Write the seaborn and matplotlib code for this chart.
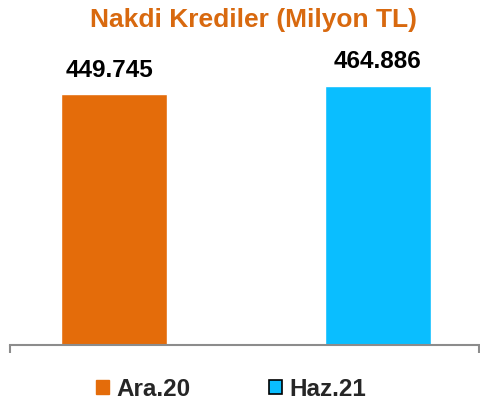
import matplotlib

matplotlib.use("Agg")
import matplotlib.pyplot as plt
import pandas as pd
import seaborn as sns
from matplotlib.patches import Patch

periods = ["Ara.20", "Haz.21"]
values = [449.745, 464.886]
value_labels = ["449.745", "464.886"]
bar_colors = ["#E46C0A", "#0ABEFF"]
title = "Nakdi Krediler (Milyon TL)"

sns.set_theme(style="white")
plt.rcParams["font.family"] = ["Liberation Sans", "DejaVu Sans"]

df = pd.DataFrame({"period": periods, "value": values})

fig = plt.figure(figsize=(4.81, 4.01), dpi=100)
ax = fig.add_axes([10 / 481, 56 / 401, 469 / 481, 279 / 401])

sns.barplot(data=df, x="period", y="value", hue="period", palette=bar_colors,
            width=0.40, legend=False, ax=ax, saturation=1)

xlim = (-0.394, 1.383)
ax.set_xlim(*xlim)
ax.set_ylim(0, 500)

for i, (v, lab) in enumerate(zip(values, value_labels)):
    ax.annotate(lab, (i, v), xytext=(-3 if i == 0 else 0, 9), textcoords="offset points",
                ha="center", va="bottom", fontsize=17.5, fontweight="bold",
                color="black")

for s in ("left", "right", "top"):
    ax.spines[s].set_visible(False)
ax.spines["bottom"].set_color("#8C8C8C")
ax.spines["bottom"].set_linewidth(1.5)
ax.set_xticks(list(xlim))
ax.set_xticklabels([])
ax.tick_params(axis="x", bottom=True, direction="out", length=6, width=1.5,
               color="#8C8C8C")
ax.set_yticks([])
ax.set_xlabel("")
ax.set_ylabel("")

fig.text(254 / 481, 1 - 20 / 401, title, ha="center", va="center",
         fontsize=19, fontweight="bold", color="#D8690F")

handles = [Patch(facecolor=bar_colors[0], edgecolor=bar_colors[0], label=periods[0]),
           Patch(facecolor=bar_colors[1], edgecolor="black", linewidth=1.2,
                 label=periods[1])]
leg = fig.legend(handles=handles, loc="center", bbox_to_anchor=(231 / 481, 1 - 389 / 401),
                 ncol=2, frameon=False, handlelength=0.55, handleheight=0.55,
                 handletextpad=0.3, columnspacing=3.2,
                 prop={"size": 17.5, "weight": "bold"})

fig.savefig("out.png", dpi=100)
plt.close(fig)
